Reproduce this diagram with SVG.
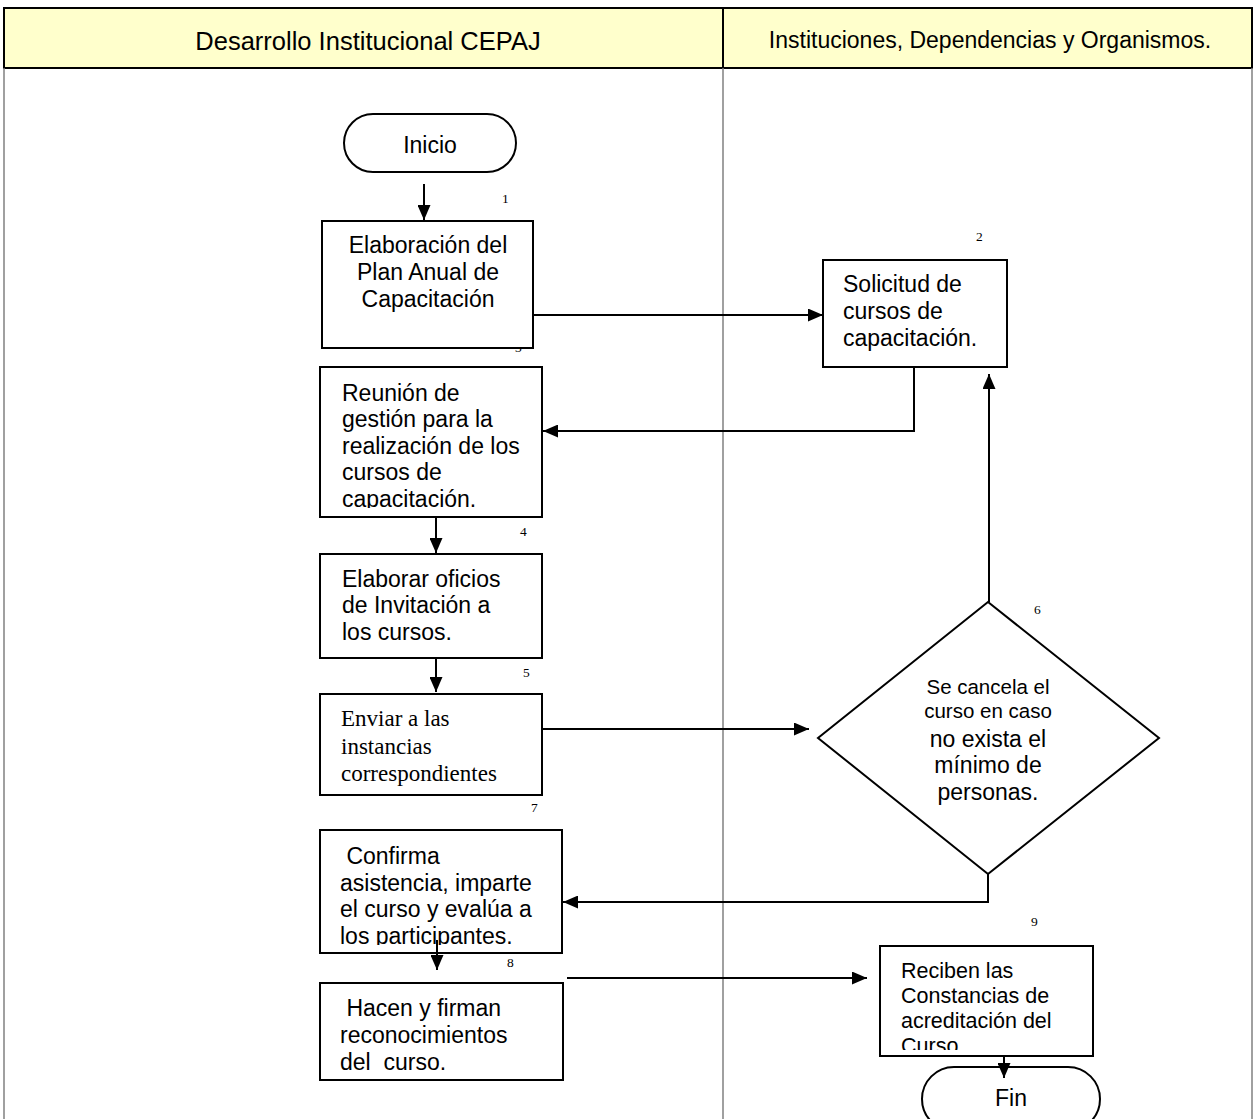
<svg xmlns="http://www.w3.org/2000/svg" width="1254" height="1119" viewBox="0 0 1254 1119">
<style>
.box{fill:#fff;stroke:#000;stroke-width:2}
.t{font-family:"Liberation Sans",Arial,sans-serif;font-size:23px;fill:#000}
.ts{font-family:"Liberation Serif","Times New Roman",serif;font-size:23px;fill:#000}
.n{font-family:"Liberation Serif","Times New Roman",serif;font-size:13.5px;fill:#000}
.c{fill:none;stroke:#000;stroke-width:2}
.lane{stroke:#808080;stroke-width:1.5}
</style>
<defs>
<marker id="ah" markerUnits="userSpaceOnUse" markerWidth="15" markerHeight="13" refX="15" refY="6.5" orient="auto"><path d="M0,0 L15,6.5 L0,13 z" fill="#000"/></marker>
<clipPath id="c3"><rect x="320" y="367" width="222" height="141"/></clipPath>
<clipPath id="c7"><rect x="320" y="830" width="242" height="115"/></clipPath>
<clipPath id="c9"><rect x="880" y="946" width="213" height="104"/></clipPath>
</defs>
<rect width="1254" height="1119" fill="#fff"/>
<g id="lanes">
<rect x="4" y="8" width="1248" height="60" fill="#FFFFCC" stroke="#000" stroke-width="2"/>
<line x1="723" y1="8" x2="723" y2="68" stroke="#000" stroke-width="2"/>
<line class="lane" x1="4" y1="68" x2="4" y2="1119"/>
<line class="lane" x1="723" y1="68" x2="723" y2="1119"/>
<line class="lane" x1="1252" y1="68" x2="1252" y2="1119"/>
<text x="368" y="50" text-anchor="middle" style="font-family:'Liberation Sans',Arial,sans-serif;font-size:25.5px">Desarrollo Institucional CEPAJ</text>
<text x="990" y="48" text-anchor="middle" style="font-family:'Liberation Sans',Arial,sans-serif;font-size:23px">Instituciones, Dependencias y Organismos.</text>
</g>
<g id="connectors">
<path class="c" d="M424,184 L424,220" marker-end="url(#ah)"/>
<path class="c" d="M533,315 L823,315" marker-end="url(#ah)"/>
<path class="c" d="M918,355 L914,355 L914,431 L543,431" marker-end="url(#ah)"/>
<path class="c" d="M436,517 L436,553" marker-end="url(#ah)"/>
<path class="c" d="M436,652 L436,692" marker-end="url(#ah)"/>
<path class="c" d="M536,729 L809,729" marker-end="url(#ah)"/>
<path class="c" d="M989,602 L989,374" marker-end="url(#ah)"/>
<path class="c" d="M992,859 L988,859 L988,902 L563,902" marker-end="url(#ah)"/>
<path class="c" d="M567,978 L867,978" marker-end="url(#ah)"/>
</g>
<g id="inicio">
<rect class="box" x="344" y="114" width="172" height="58" rx="29"/>
<text class="t" x="430" y="153" text-anchor="middle">Inicio</text>
</g>
<g id="n1">
<text class="n" x="502" y="203">1</text>
<text class="n" x="515" y="352">3</text>
<rect class="box" x="322" y="221" width="211" height="127"/>
<text class="t" x="428" y="253" text-anchor="middle">Elaboración del</text>
<text class="t" x="428" y="280" text-anchor="middle">Plan Anual de</text>
<text class="t" x="428" y="307" text-anchor="middle">Capacitación</text>
</g>
<g id="n2">
<text class="n" x="976" y="241">2</text>
<rect class="box" x="823" y="260" width="184" height="107"/>
<text class="t" x="843" y="292">Solicitud de</text>
<text class="t" x="843" y="319">cursos de</text>
<text class="t" x="843" y="346">capacitación.</text>
</g>
<g id="n3">
<rect class="box" x="320" y="367" width="222" height="150"/>
<g clip-path="url(#c3)">
<text class="t" x="342" y="401">Reunión de</text>
<text class="t" x="342" y="427">gestión para la</text>
<text class="t" x="342" y="454">realización de los</text>
<text class="t" x="342" y="480">cursos de</text>
<text class="t" x="342" y="507">capacitación.</text>
</g>
</g>
<g id="n4">
<text class="n" x="520" y="536">4</text>
<rect class="box" x="320" y="554" width="222" height="104"/>
<text class="t" x="342" y="587">Elaborar oficios</text>
<text class="t" x="342" y="613">de Invitación a</text>
<text class="t" x="342" y="640">los cursos.</text>
</g>
<g id="n5">
<text class="n" x="523" y="677">5</text>
<rect class="box" x="320" y="694" width="222" height="101"/>
<text class="ts" x="341" y="726">Enviar a las</text>
<text class="ts" x="341" y="754">instancias</text>
<text class="ts" x="341" y="781">correspondientes</text>
<text class="n" x="531" y="812">7</text>
</g>
<g id="n6">
<text class="n" x="1034" y="614">6</text>
<path class="box" d="M988,602 L1159,738 L988,874 L818,738 Z"/>
<text class="t" x="988" y="694" text-anchor="middle" style="font-size:20.5px">Se cancela el</text>
<text class="t" x="988" y="718" text-anchor="middle" style="font-size:20.5px">curso en caso</text>
<text class="t" x="988" y="747" text-anchor="middle">no exista el</text>
<text class="t" x="988" y="773" text-anchor="middle">mínimo de</text>
<text class="t" x="988" y="800" text-anchor="middle">personas.</text>
</g>
<g id="n7">
<rect class="box" x="320" y="830" width="242" height="123"/>
<g clip-path="url(#c7)">
<text class="t" x="340" y="864" xml:space="preserve"> Confirma</text>
<text class="t" x="340" y="891">asistencia, imparte</text>
<text class="t" x="340" y="917">el curso y evalúa a</text>
<text class="t" x="340" y="944">los participantes.</text>
</g>
</g>
<path class="c" d="M437,940 L437,970" marker-end="url(#ah)"/>
<g id="n8">
<text class="n" x="507" y="967">8</text>
<rect class="box" x="320" y="983" width="243" height="97"/>
<text class="t" x="340" y="1016" xml:space="preserve"> Hacen y firman</text>
<text class="t" x="340" y="1043">reconocimientos</text>
<text class="t" x="340" y="1070" xml:space="preserve">del  curso.</text>
</g>
<g id="n9">
<text class="n" x="1031" y="926">9</text>
<rect class="box" x="880" y="946" width="213" height="110"/>
<g clip-path="url(#c9)">
<text class="t" x="901" y="978" style="font-size:21.5px">Reciben las</text>
<text class="t" x="901" y="1003" style="font-size:21.5px">Constancias de</text>
<text class="t" x="901" y="1028" style="font-size:21.5px">acreditación del</text>
<text class="t" x="901" y="1053" style="font-size:21.5px">Curso.</text>
</g>
</g>
<g id="fin">
<rect class="box" x="922" y="1067" width="178" height="64" rx="32"/>
<text class="t" x="1011" y="1106" text-anchor="middle">Fin</text>
</g>
<path class="c" d="M1004,1056 L1004,1078" marker-end="url(#ah)"/>
</svg>
